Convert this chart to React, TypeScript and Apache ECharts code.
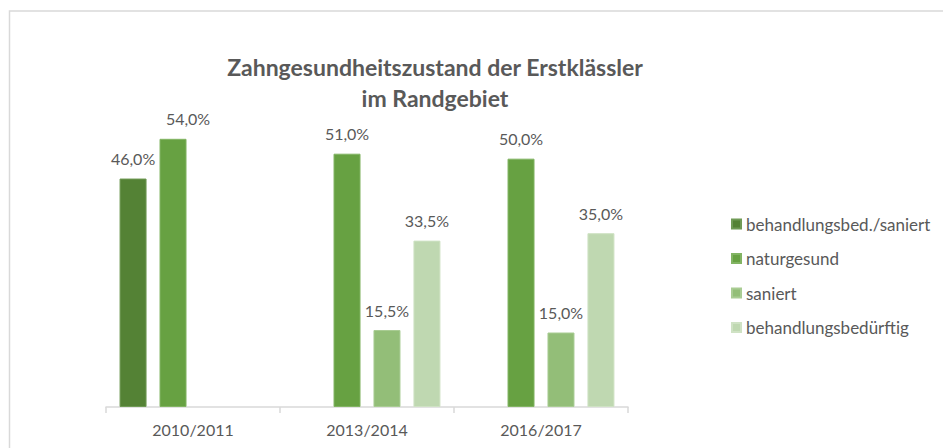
import React, { useEffect, useRef } from "react";
import * as echarts from "echarts";

const categories = ["2010/2011", "2013/2014", "2016/2017"];
const seriesNames = ["behandlungsbed./saniert", "naturgesund", "saniert", "behandlungsbedürftig"];
const behandlungsbedSaniert = [46.0, null, null];
const naturgesund = [54.0, 51.0, 50.0];
const saniert = [null, 15.5, 15.0];
const behandlungsbeduerftig = [null, 33.5, 35.0];
const colors = ["#548235", "#67a142", "#93be78", "#bfd8b1"];
const borders = ["#6f9a55", "#82b463", "#a9cc93", "#cfe2c4"];

const FONT = "Lato";
const GREY = "#595959";

export default function App() {
  const ref = useRef<HTMLDivElement>(null);
  useEffect(() => {
    document.body.style.margin = "0";
    const chart = echarts.init(ref.current!, null, { renderer: "svg" });
    const data = [behandlungsbedSaniert, naturgesund, saniert, behandlungsbeduerftig];
    chart.setOption({
      animation: false,
      backgroundColor: "#ffffff",
      title: {
        text: "Zahngesundheitszustand der Erstklässler\nim Randgebiet",
        left: 430,
        top: 46,
        textAlign: "center",
        textStyle: {
          fontFamily: FONT,
          fontWeight: "bold",
          fontSize: 23,
          lineHeight: 31,
          color: GREY,
        },
      },
      legend: {
        orient: "vertical",
        left: 726,
        top: 210,
        itemWidth: 9,
        itemHeight: 9,
        itemGap: 16.5,
        icon: "rect",
        data: seriesNames,
        textStyle: { fontFamily: FONT, fontSize: 17, color: GREY, lineHeight: 18 },
      },
      graphic: [
        {
          type: "rect",
          shape: { x: 9.5, y: 11, width: 1000, height: 1000 },
          style: { fill: "none", stroke: "#d9d9d9", lineWidth: 1.5 },
          silent: true,
        },
      ],
      grid: { left: 106, right: 315, top: 109, bottom: 41, containLabel: false },
      xAxis: {
        type: "category",
        data: categories,
        axisLine: { show: true, lineStyle: { color: "#d9d9d9", width: 1.5 } },
        axisTick: { show: true, length: 6, lineStyle: { color: "#d9d9d9", width: 1.5 } },
        axisLabel: { fontFamily: FONT, fontSize: 16, color: GREY, margin: 14 },
      },
      yAxis: {
        type: "value",
        min: 0,
        max: 60,
        show: false,
        splitLine: { show: false },
      },
      series: seriesNames.map((name, i) => ({
        name,
        type: "bar",
        data: data[i].map((v, j) =>
          i === 1 && j === 0 ? { value: v, label: { offset: [15, 0] } } : v
        ),
        barWidth: 27,
        barGap: "48%",
        itemStyle: { color: colors[i], borderColor: borders[i], borderWidth: 1 },
        label: {
          show: true,
          position: "top",
          distance: 12,
          fontFamily: FONT,
          fontSize: 16,
          color: GREY,
          formatter: (p: any) => Number(p.value).toFixed(1).replace(".", ",") + "%",
        },
      })),
    });
    return () => chart.dispose();
  }, []);
  return <div ref={ref} style={{ width: 943, height: 448 }} />;
}
